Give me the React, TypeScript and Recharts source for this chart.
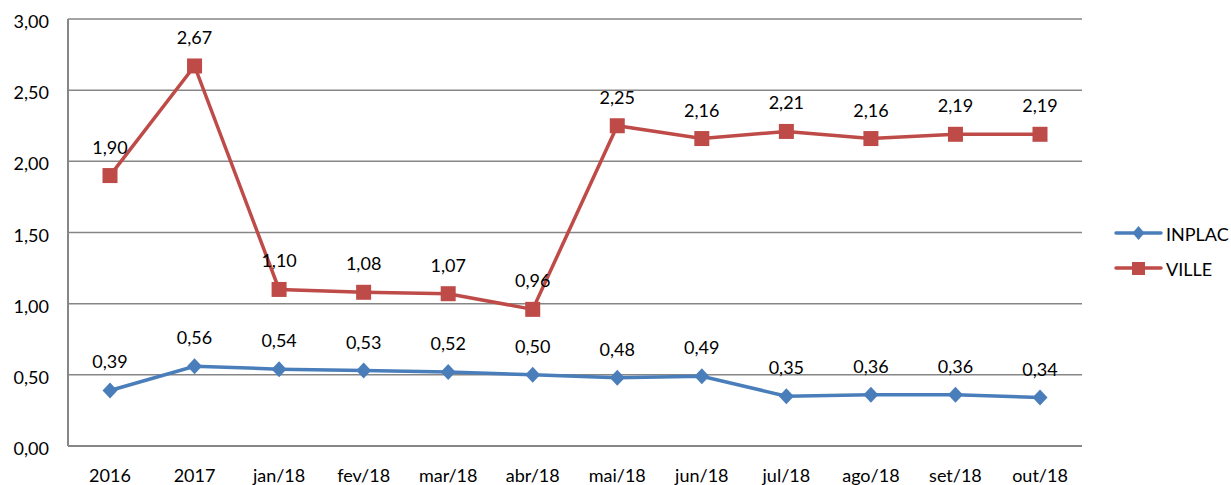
import React from 'react';
import { LineChart, Line, XAxis, YAxis, CartesianGrid, LabelList } from 'recharts';

// values
const categories = ['2016', '2017', 'jan/18', 'fev/18', 'mar/18', 'abr/18', 'mai/18', 'jun/18', 'jul/18', 'ago/18', 'set/18', 'out/18'];
const inplac = [0.39, 0.56, 0.54, 0.53, 0.52, 0.5, 0.48, 0.49, 0.35, 0.36, 0.36, 0.34];
const ville = [1.9, 2.67, 1.1, 1.08, 1.07, 0.96, 2.25, 2.16, 2.21, 2.16, 2.19, 2.19];
const yTicks = [0, 0.5, 1, 1.5, 2, 2.5, 3];
const seriesNames = ['INPLAC', 'VILLE'];

const BLUE = '#4A7EBB';
const RED = '#BE4B48';
const FONT = 'Lato, "Liberation Sans", sans-serif';
const FS = 18;

const data = categories.map((c, i) => ({ name: c, inplac: inplac[i], ville: ville[i] }));

const fmt = (v: number) => v.toFixed(2).replace('.', ',');

const Diamond = (props: any) => {
  const { cx, cy } = props;
  if (cx == null || cy == null) return null;
  return <path d={`M${cx},${cy - 8} L${cx + 7.5},${cy} L${cx},${cy + 8} L${cx - 7.5},${cy} Z`} fill={BLUE} />;
};

const Square = (props: any) => {
  const { cx, cy } = props;
  if (cx == null || cy == null) return null;
  return <rect x={cx - 7.5} y={cy - 7.5} width={15} height={15} fill={RED} />;
};

const ValueLabel = (props: any) => {
  const { x, y, value } = props;
  return (
    <text x={x} y={y - 29} textAnchor="middle" dominantBaseline="central" fontSize={FS} fontFamily={FONT} fill="#000">
      {fmt(value)}
    </text>
  );
};

const XTick = (props: any) => {
  const { x, y, payload } = props;
  return (
    <text x={x} y={y + 29} textAnchor="middle" dominantBaseline="central" fontSize={FS} fontFamily={FONT} fill="#000">
      {payload.value}
    </text>
  );
};

const YTick = (props: any) => {
  const { x, y, payload } = props;
  return (
    <text x={x - 19} y={y + 2} textAnchor="end" dominantBaseline="central" fontSize={FS} fontFamily={FONT} fill="#000">
      {fmt(payload.value)}
    </text>
  );
};

export default function App() {
  return (
    <div style={{ position: 'absolute', left: 0, top: 0, width: 1231, height: 485, background: '#fff' }}>
      <LineChart width={1231} height={485} data={data} margin={{ top: 19, right: 149, bottom: 0, left: 0 }}>
        <CartesianGrid vertical={false} stroke="#868686" strokeWidth={1.5} />
        <XAxis dataKey="name" height={39} padding={{ left: 42, right: 42 }} tick={<XTick />} tickLine={false} tickSize={0} tickMargin={0} axisLine={{ stroke: '#868686', strokeWidth: 2 }} interval={0} />
        <YAxis width={68} domain={[0, 3]} ticks={yTicks} tick={<YTick />} tickLine={false} tickSize={0} tickMargin={0} axisLine={{ stroke: '#868686', strokeWidth: 2 }} />
        <Line dataKey="inplac" name={seriesNames[0]} stroke={BLUE} strokeWidth={3.5} dot={<Diamond />} isAnimationActive={false}>
          <LabelList dataKey="inplac" content={<ValueLabel />} />
        </Line>
        <Line dataKey="ville" name={seriesNames[1]} stroke={RED} strokeWidth={3.5} dot={<Square />} isAnimationActive={false}>
          <LabelList dataKey="ville" content={<ValueLabel />} />
        </Line>
      </LineChart>
      <svg width={120} height={80} style={{ position: 'absolute', left: 1113, top: 213 }}>
        <line x1={3} y1={20} x2={48} y2={20} stroke={BLUE} strokeWidth={3.5} strokeLinecap="round" />
        <path d="M25.5,13 L31.5,20 L25.5,27 L19.5,20 Z" fill={BLUE} />
        <text x={53} y={21} dominantBaseline="central" fontSize={FS} fontFamily={FONT} fill="#000">{seriesNames[0]}</text>
        <line x1={3} y1={55} x2={48} y2={55} stroke={RED} strokeWidth={3.5} strokeLinecap="round" />
        <rect x={19} y={49} width={13} height={13} fill={RED} />
        <text x={53} y={56} dominantBaseline="central" fontSize={FS} fontFamily={FONT} fill="#000">{seriesNames[1]}</text>
      </svg>
    </div>
  );
}
